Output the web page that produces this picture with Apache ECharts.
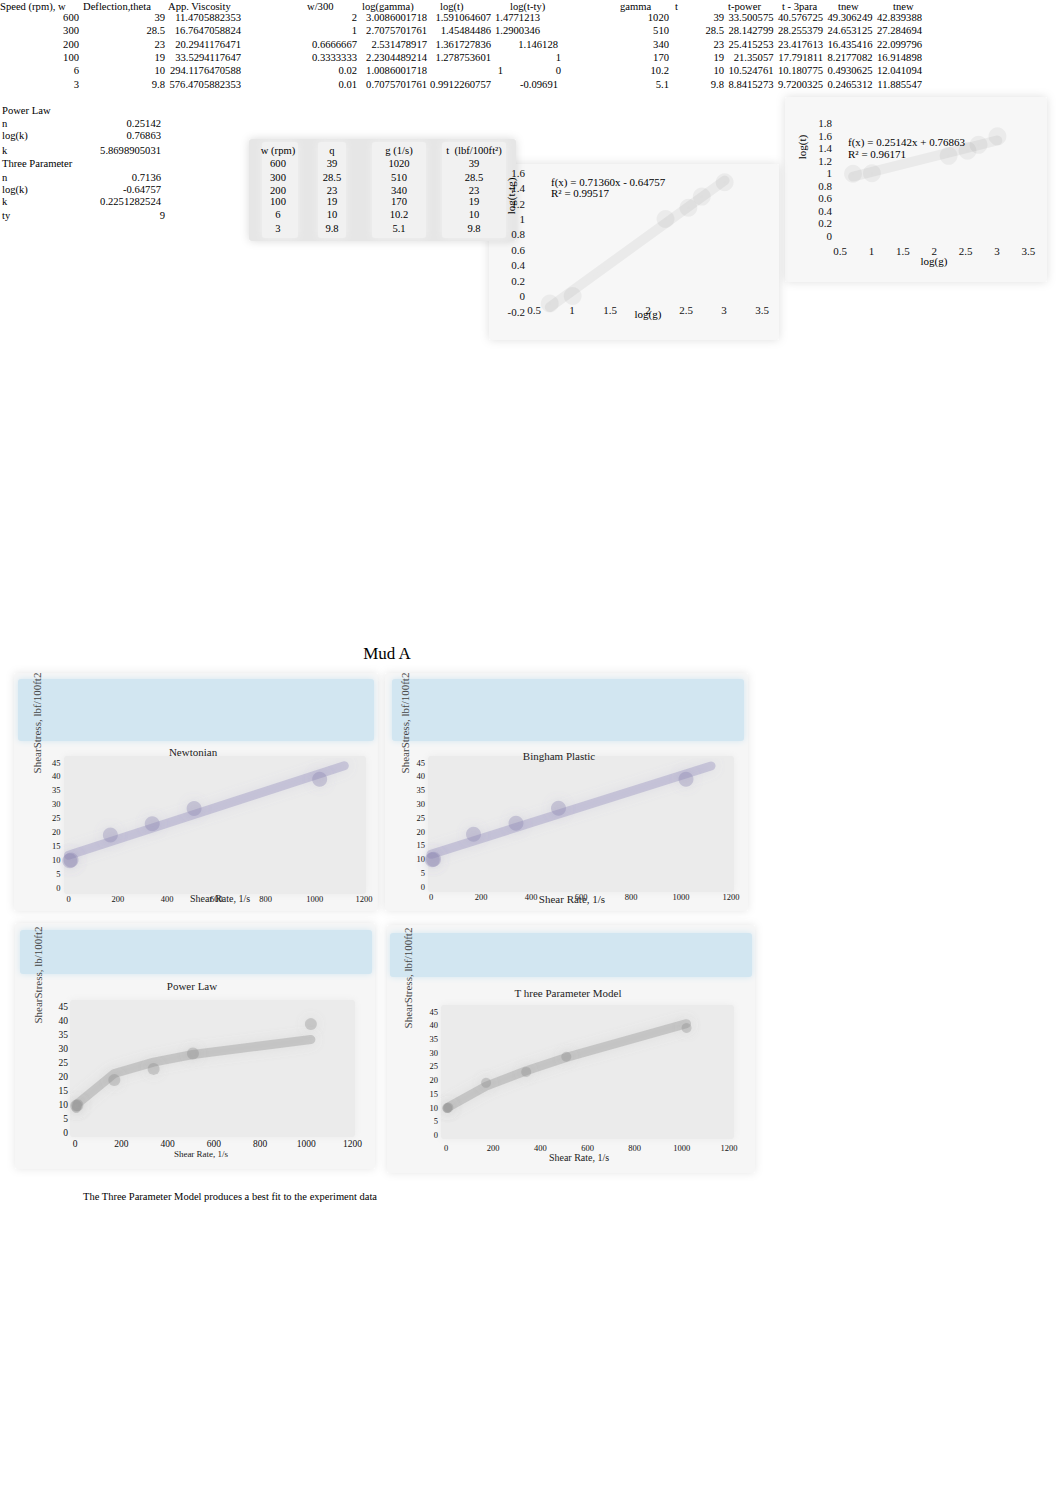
<!DOCTYPE html>
<html><head><meta charset="utf-8">
<script src="https://cdn.jsdelivr.net/npm/echarts@6/dist/echarts.min.js"></script>
<style>html,body{margin:0;padding:0;background:#fff}#c{width:1062px;height:1506px}</style>
</head><body><div id="c"></div>
<script>
// ---------------- DATA ----------------
const topHeaders = ["Speed (rpm), w","Deflection,theta","App. Viscosity","w/300","log(gamma)","log(t)","log(t-ty)","gamma","t","t-power","t - 3para","tnew","tnew"];
const speedRpm = [600,300,200,100,6,3];
const deflection = [39,28.5,23,19,10,9.8];
const appViscosity = [11.4705882353,16.7647058824,20.2941176471,33.5294117647,294.1176470588,576.4705882353];
const wOver300 = [2,1,0.6666667,0.3333333,0.02,0.01];
const logGamma = [3.0086001718,2.7075701761,2.531478917,2.2304489214,1.0086001718,0.7075701761];
const logT = [1.591064607,1.45484486,1.361727836,1.278753601,1,0.9912260757];
const logTminusTy = [1.4771213,1.2900346,1.146128,1,0,-0.09691];
const gamma = [1020,510,340,170,10.2,5.1];
const tau = [39,28.5,23,19,10,9.8];
const tPower = [33.500575,28.142799,25.415253,21.35057,10.524761,8.8415273];
const t3para = [40.576725,28.255379,23.417613,17.791811,10.180775,9.7200325];
const tNewton = [49.306249,24.653125,16.435416,8.2177082,0.4930625,0.2465312];
const tBingham = [42.839388,27.284694,22.099796,16.914898,12.041094,11.885547];

const paramLabels = ["Power Law","n","log(k)","k","Three Parameter","n","log(k)","k","ty"];
const powerN = 0.25142, powerLogK = 0.76863, powerK = 5.8698905031, powerR2 = 0.96171;
const threeN = 0.7136, threeLogK = -0.64757, threeK = 0.2251282524, threeTy = 9, threeR2 = 0.99517;
const paramValues = [null,powerN,powerLogK,powerK,null,threeN,threeLogK,threeK,threeTy];

const midHeaders = ["w (rpm)","q","g (1/s)","t  (lbf/100ft\u00b2)"];

const logTicksX = {min:0.5,max:3.5,interval:0.5};
const chart1TicksY = {min:-0.2,max:1.6,interval:0.2};
const chart2TicksY = {min:0,max:1.8,interval:0.2};
const rateTicks = {min:0,max:1200,interval:200};
const stressTicks = {min:0,max:45,interval:5};

const mudTitle = "Mud A";
const mudTitles = ["Newtonian","Bingham Plastic","Power Law","T hree Parameter Model"];
const mudYTitles = ["ShearStress, lbf/100ft2","ShearStress, lbf/100ft2","ShearStress, lb/100ft2","ShearStress, lbf/100ft2"];
const mudXTitle = "Shear Rate, 1/s";
const conclusion = "The Three Parameter Model produces a best fit to the experiment data";
const trendForecast = 100;

// ---------------- LAYOUT / STYLE ----------------
const FONT = '"Liberation Serif","Times New Roman",serif';
const TF = 10.6; // table font size
const G = [];
function T(text,x,y,size,align,opt){
  opt = opt||{};
  const o = {type:'text',x:x,y:y,z:50,silent:true,style:{text:String(text),font:size+'px '+FONT,fill:opt.fill||'#000',textAlign:align||'left',textVerticalAlign:'middle'}};
  if (opt.rotation) o.rotation = opt.rotation;
  return o;
}
function R(x,y,w,h,fill,blur,sc,z){
  return {type:'rect',silent:true,z:z,shape:{x:x,y:y,width:w,height:h,r:3},style:{fill:fill,shadowBlur:blur||0,shadowColor:sc||'rgba(0,0,0,0)'}};
}

// backgrounds (kept below axes)
G.push(R(785,97,262,185,'#f7f7f7',10,'rgba(0,0,0,0.13)',-10));
G.push(R(489,164,290,176,'#f7f7f7',10,'rgba(0,0,0,0.13)',-10));
G.push(R(249,139,267,102,'#e6e6e6',8,'rgba(0,0,0,0.15)',-8));
[[262,36],[318,28],[372,54],[442,64]].forEach(b=>G.push(R(b[0],142,b[1],96,'#f1f1f1',7,'#f1f1f1',-7)));

const mudPanels = [
  {p:[14,673,364,238], b:[18,679,356,62], a:[64,756,302,138]},
  {p:[385,673,363,238], b:[392,679,352,62], a:[428,756,306,136]},
  {p:[15,923,360,246], b:[20,930,352,44], a:[70,1000,285,137]},
  {p:[387,925,368,248], b:[390,933,362,44], a:[441,1005,293,134]}
];
mudPanels.forEach(m=>{
  G.push(R(m.p[0],m.p[1],m.p[2],m.p[3],'#f6f6f6',8,'rgba(0,0,0,0.10)',-10));
  G.push(R(m.b[0],m.b[1],m.b[2],m.b[3],'#d2e6f1',6,'#d2e6f1',-9));
  G.push(R(m.a[0],m.a[1],m.a[2],m.a[3],'#ebebeb',6,'#ebebeb',-9));
});

// top table
const topCols = [speedRpm,deflection,appViscosity,wOver300,logGamma,logT,logTminusTy,gamma,tau,tPower,t3para,tNewton,tBingham];
const headerX = [0,83,168,307,362,440,510,620,675,728,782,838,893];
const colRight = [79,165,241,357,427,491,558,669,724,773.5,823,872.5,922];
const colIntRight = {5:503,6:561};
const colLongLeft = {6:495};
const rowY = [17,30,44,57,70,84];
topHeaders.forEach((h,i)=>G.push(T(h,headerX[i],6,TF,'left')));
topCols.forEach((col,ci)=>{
  col.forEach((v,ri)=>{
    const s = String(v);
    if (colLongLeft[ci]!==undefined && s.length>8) G.push(T(s,colLongLeft[ci],rowY[ri],TF,'left'));
    else if (colIntRight[ci]!==undefined && Number.isInteger(v)) G.push(T(s,colIntRight[ci],rowY[ri],TF,'right'));
    else G.push(T(s,colRight[ci],rowY[ri],TF,'right'));
  });
});

// parameter block
const paramY = [110,123,135,150,163,177,189,201,215];
paramLabels.forEach((l,i)=>{
  G.push(T(l,2,paramY[i],TF,'left'));
  const v = paramValues[i];
  if (v!==null) G.push(T(String(v), Number.isInteger(v)?165:161, paramY[i],TF,'right'));
});

// middle table
const midX = [278,332,399,474];
const midRowY = [163,177,190,201,214,228];
const midCols = [speedRpm,deflection,gamma,tau];
midHeaders.forEach((h,i)=>G.push(T(h,midX[i],150,TF,'center')));
midCols.forEach((col,ci)=>col.forEach((v,ri)=>G.push(T(String(v),midX[ci],midRowY[ri],TF,'center'))));

// chart 1 & 2 labels
function eq(n,b){return 'f(x) = '+n.toFixed(5)+'x '+(b<0?'- ':'+ ')+Math.abs(b).toFixed(5);}
G.push(T(eq(threeN,threeLogK),551,182,11,'left'));
G.push(T('R\u00b2 = '+threeR2.toFixed(5),551,193,11,'left'));
G.push(T('log(g)',648,314,11,'center'));
G.push(T('log(t-tg)',511,196,11,'center',{rotation:Math.PI/2}));
G.push(T(eq(powerN,powerLogK),848,142,11,'left'));
G.push(T('R\u00b2 = '+powerR2.toFixed(5),848,154,11,'left'));
G.push(T('log(g)',934,261,11,'center'));
G.push(T('log(t)',802,147,11,'center',{rotation:Math.PI/2}));

// Mud A labels
G.push(T(mudTitle,387,653,17,'center'));
const mudTitlePos = [[193,752],[559,756],[192,986],[568,993]];
const mudYTitlePos = [[37,723],[405,723],[38,975],[408,978]];
const mudXTitlePos = [[220,898,10],[572,899,11],[201,1154,9],[579,1157,10]];
mudTitles.forEach((t,i)=>{
  G.push(T(t,mudTitlePos[i][0],mudTitlePos[i][1],11,'center',{fill:'#222'}));
  G.push(T(mudYTitles[i],mudYTitlePos[i][0],mudYTitlePos[i][1],11,'center',{rotation:Math.PI/2,fill:'#444'}));
  G.push(T(mudXTitle,mudXTitlePos[i][0],mudXTitlePos[i][1],mudXTitlePos[i][2],'center',{fill:'#222'}));
});
G.push(T(conclusion,83,1196,10.5,'left'));

// ---------------- SERIES HELPERS ----------------
function linreg(xs,ys){
  const n=xs.length, mx=xs.reduce((a,b)=>a+b,0)/n, my=ys.reduce((a,b)=>a+b,0)/n;
  let sxy=0,sxx=0; xs.forEach((x,i)=>{sxy+=(x-mx)*(ys[i]-my);sxx+=(x-mx)*(x-mx);});
  const b=sxy/sxx; return {a:my-b*mx,b:b};
}
const pairs = (xs,ys)=>xs.map((x,i)=>[x,ys[i]]);
const minX = Math.min(...logGamma), maxX = Math.max(...logGamma);
const fitLine = (n,b)=>[[minX,n*minX+b],[maxX,n*maxX+b]];
const reg = linreg(gamma,tau);
const gMax = Math.max(...gamma)+trendForecast;
const regLine = [[0,reg.a],[gMax,reg.a+reg.b*gMax]];

function lineS(gi,data,color,width,blur){
  return {type:'line',xAxisIndex:gi,yAxisIndex:gi,data:data,showSymbol:false,symbol:'none',silent:true,z:3,
    lineStyle:{color:color,width:width,shadowBlur:blur,shadowColor:color,cap:'round'}};
}
function dotS(gi,data,color,size,blur){
  return {type:'scatter',xAxisIndex:gi,yAxisIndex:gi,data:data,symbolSize:size,silent:true,z:4,
    itemStyle:{color:color,shadowBlur:blur,shadowColor:color}};
}

const grids = [
  {left:534,top:172.7,width:228,height:138.8},
  {left:840,top:123.3,width:188.3,height:112.4},
  {left:68.5,top:762.5,width:295.5,height:125.5},
  {left:431,top:762.7,width:300,height:124},
  {left:75,top:1007.3,width:277.5,height:126},
  {left:446,top:1011.5,width:283,height:123.5}
];
const plain = v => String(v);
function axisX(gi,t,size,margin){
  return {type:'value',gridIndex:gi,min:t.min,max:t.max,interval:t.interval,
    axisLine:{show:false},axisTick:{show:false},splitLine:{show:false},
    axisLabel:{fontFamily:FONT,fontSize:size,color:'#111',margin:margin,formatter:plain}};
}
function axisY(gi,t,size,margin){
  return {type:'value',gridIndex:gi,min:t.min,max:t.max,interval:t.interval,
    axisLine:{show:false},axisTick:{show:false},splitLine:{show:false},
    axisLabel:{fontFamily:FONT,fontSize:size,color:'#111',margin:margin,showMinLabel:true,showMaxLabel:true,
      formatter:v=>String(Math.round(v*1000)/1000)}};
}

const lav='rgba(150,145,190,0.40)', lavDot='rgba(135,130,175,0.42)';
const gry='rgba(150,150,150,0.40)', gryDot='rgba(135,135,135,0.42)';
const faint='rgba(0,0,0,0.05)', faintDot='rgba(0,0,0,0.06)';

const option = {
  animation:false,
  backgroundColor:'#ffffff',
  grid: grids.map(g=>Object.assign({containLabel:false,show:false},g)),
  xAxis:[axisX(0,logTicksX,11,-7),axisX(1,logTicksX,11,10),axisX(2,rateTicks,8.5,6),axisX(3,rateTicks,8.5,6),axisX(4,rateTicks,9.5,6),axisX(5,rateTicks,8.5,8)],
  yAxis:[axisY(0,chart1TicksY,11,9),axisY(1,chart2TicksY,11,8),axisY(2,stressTicks,8.5,8),axisY(3,stressTicks,8.5,6),axisY(4,stressTicks,9.5,7),axisY(5,stressTicks,8.5,8)],
  series:[
    lineS(0,fitLine(threeN,threeLogK),faint,10,10),
    dotS(0,pairs(logGamma,logTminusTy),faintDot,18,12),
    lineS(1,fitLine(powerN,powerLogK),faint,10,10),
    dotS(1,pairs(logGamma,logT),faintDot,18,12),
    lineS(2,regLine,lav,9,12),
    dotS(2,pairs(gamma,tau),lavDot,15,12),
    lineS(3,regLine,lav,9,12),
    dotS(3,pairs(gamma,tau),lavDot,15,12),
    lineS(4,pairs(gamma,tPower),gry,9,12),
    dotS(4,pairs(gamma,tau),gryDot,12,12),
    lineS(5,pairs(gamma,t3para),gry,9,12),
    dotS(5,pairs(gamma,tau),gryDot,10,12)
  ],
  graphic:{elements:G}
};
const chart = echarts.init(document.getElementById('c'),null,{renderer:'svg',width:1062,height:1506});
chart.setOption(option);
</script>
</body></html>
